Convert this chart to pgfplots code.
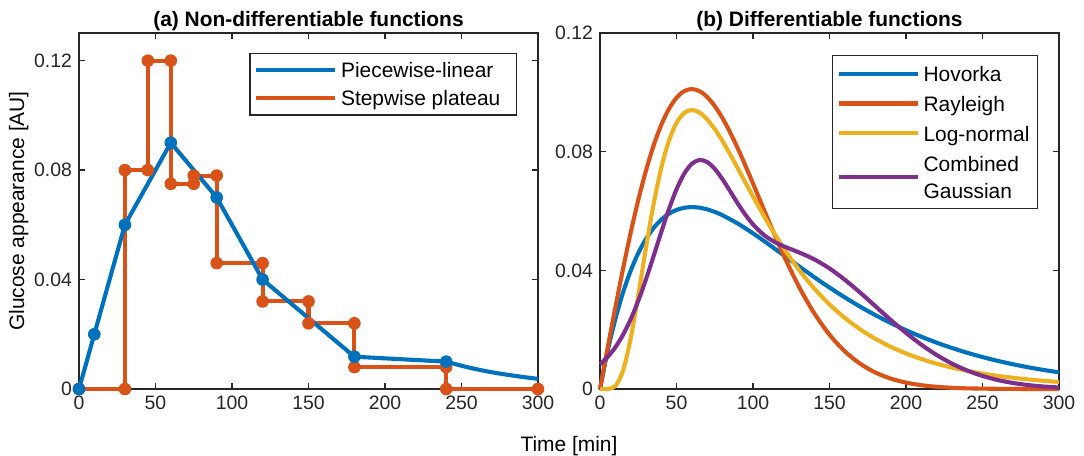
\documentclass[border=0pt]{standalone}
\usepackage{fontspec}
\setmainfont{Liberation Sans}
\usepackage{pgfplots}
\pgfplotsset{compat=1.18}
\definecolor{mblue}{rgb}{0,0.447,0.741}
\definecolor{morange}{rgb}{0.85,0.325,0.098}
\definecolor{myellow}{rgb}{0.929,0.694,0.125}
\definecolor{mpurple}{rgb}{0.494,0.184,0.556}
\definecolor{maxis}{rgb}{0.15,0.15,0.15}
\newcommand{\lfont}{\fontsize{10.5}{12}\selectfont}
\newcommand{\rfont}{\fontsize{10.5}{13.6}\selectfont}
\pgfplotsset{
 mystyle/.style={
  width=229.5bp, height=178bp, scale only axis,
  xmin=0, xmax=300, ymin=0,
  xtick={0,50,...,300},
  ytick={0,0.04,0.08,0.12},
  yticklabels={0,0.04,0.08,0.12},
  scaled y ticks=false,
  axis line style={maxis, line width=0.6bp},
  every tick/.style={maxis, line width=0.6bp},
  major tick length=3bp,
  tick align=inside,
  ticklabel style={font=\fontsize{9.75}{11}\selectfont, text=maxis},
  /pgf/number format/assume math mode=true,
  every axis title shift=0pt,
  title style={at={(0.5,1)}, anchor=base, yshift=3bp, inner sep=0pt, font=\bfseries\fontsize{10.5}{12}\selectfont},
  legend style={font=\lfont, draw=maxis, line width=0.6bp, anchor=north east, at={(1,1)}, xshift=-10.5bp, yshift=-10bp, cells={anchor=west, align=left}, inner xsep=2bp, inner ysep=1.5bp},
  legend image code/.code={\draw[#1] (0bp,0bp) -- (39.5bp,0bp);},
  clip=false,
  every axis plot/.append style={line width=2.05bp},
 }
}
\begin{document}
\begin{tikzpicture}
\useasboundingbox (-39.5bp,-33.5bp) rectangle (502.5bp,194.5bp);
\begin{axis}[mystyle, ymax=0.1301,
  title={(a) Non-differentiable functions},
  ylabel={Glucose appearance [AU]},
  ylabel style={at={(axis description cs:-0.1198,0.5)}, anchor=base, font=\lfont, inner sep=0pt},
  reverse legend]
\addplot[morange, mark=*, mark size=2.9bp, mark options={solid, fill=morange, draw=morange, line width=0.5bp}] coordinates {
(0,0) (30,0) (30,0.08) (45,0.08) (45,0.12) (60,0.12) (60,0.075) (75,0.075) (75,0.078) (90,0.078) (90,0.046) (120,0.046) (120,0.032) (150,0.032) (150,0.024) (180,0.024) (180,0.008) (240,0.008) (240,0) (300,0)};
\addlegendentry{Stepwise plateau\hspace*{4bp}\strut}
\addplot[mblue] coordinates {
(0,0) (10,0.02) (30,0.06) (60,0.09) (90,0.07) (120,0.04) (180,0.0118) (240,0.0100)};
\addlegendentry{Piecewise-linear\hspace*{4bp}\strut}
\addplot[mblue, smooth, forget plot] coordinates {
(240,0.0100) (250,0.0085) (260,0.0072) (270,0.0061) (280,0.0052) (290,0.0044) (300,0.0037)};
\addplot[mblue, only marks, mark=*, mark size=2.9bp, mark options={fill=mblue, draw=mblue, line width=0.5bp}, forget plot] coordinates {
(0,0) (10,0.02) (30,0.06) (60,0.09) (90,0.07) (120,0.04) (180,0.0118) (240,0.0100)};
\end{axis}
\begin{axis}[mystyle, at={(260.5bp,0)}, ymax=0.12,
  title={(b) Differentiable functions},
  legend style={font=\rfont, yshift=-1bp}]
\addplot[mblue, smooth] coordinates {
(0,0) (5,0.01278) (10,0.02351) (15,0.03245) (20,0.03981) (25,0.04578) (30,0.05054) (35,0.05425) (40,0.05704) (45,0.05905) (50,0.06036) (55,0.06108) (60,0.06131) (65,0.06113) (70,0.06055) (75,0.05969) (80,0.05858) (90,0.05578) (100,0.05247) (110,0.04886) (120,0.04511) (130,0.04138) (140,0.03771) (150,0.03420) (160,0.03088) (170,0.02777) (180,0.02489) (190,0.02224) (200,0.01982) (210,0.01762) (220,0.01562) (230,0.01383) (240,0.01221) (250,0.01077) (260,0.00948) (270,0.00833) (280,0.00731) (290,0.00641) (300,0.00561)};
\addlegendentry{Hovorka\strut}
\addplot[morange, smooth] coordinates {
(0,0) (5,0.01384) (10,0.02740) (15,0.04038) (20,0.05256) (25,0.06367) (30,0.07354) (35,0.08202) (40,0.08897) (45,0.09435) (50,0.09815) (55,0.10040) (60,0.10110) (65,0.10040) (70,0.09844) (75,0.09537) (80,0.09135) (85,0.08655) (90,0.08117) (95,0.07534) (100,0.06928) (110,0.05693) (120,0.04510) (130,0.03453) (140,0.02556) (150,0.01831) (160,0.01270) (170,0.00853) (180,0.00555) (190,0.00351) (200,0.00215) (210,0.00128) (220,0.00074) (230,0.00041) (240,0.00022) (260,0.00006) (280,0.00001) (300,0)};
\addlegendentry{Rayleigh\strut}
\addplot[myellow, smooth] coordinates {
(0,0) (5,0.00001) (10,0.00098) (15,0.00612) (20,0.01690) (25,0.03162) (30,0.04750) (35,0.06222) (40,0.07444) (45,0.08362) (50,0.08970) (55,0.09304) (60,0.09404) (65,0.09320) (70,0.09092) (75,0.08762) (80,0.08361) (85,0.07915) (90,0.07444) (95,0.06966) (100,0.06490) (110,0.05578) (120,0.04750) (130,0.04020) (140,0.03389) (150,0.02851) (160,0.02395) (170,0.02012) (180,0.01691) (190,0.01422) (200,0.01198) (210,0.01010) (220,0.00853) (230,0.00722) (240,0.00612) (250,0.00520) (260,0.00442) (270,0.00377) (280,0.00322) (290,0.00276) (300,0.00236)};
\addlegendentry{Log-normal\strut}
\addplot[mpurple, smooth] coordinates {
(0,0.00833) (5,0.01081) (10,0.01405) (15,0.01823) (20,0.02344) (25,0.02970) (30,0.03691) (35,0.04476) (40,0.05283) (45,0.06054) (50,0.06730) (55,0.07255) (60,0.07590) (65,0.07719) (70,0.07652) (75,0.07420) (80,0.07075) (85,0.06671) (90,0.06257) (95,0.05875) (100,0.05549) (105,0.05286) (110,0.05085) (115,0.04932) (120,0.04811) (130,0.04605) (140,0.04371) (150,0.04064) (160,0.03683) (170,0.03251) (180,0.02790) (190,0.02329) (200,0.01891) (210,0.01494) (220,0.01147) (230,0.00857) (240,0.00622) (250,0.00440) (260,0.00302) (270,0.00202) (280,0.00132) (290,0.00083) (300,0.00051)};
\addlegendentry{Combined\strut\\Gaussian\strut}
\end{axis}
\node[anchor=base, font=\lfont, inner sep=0pt] at (245bp,-31bp) {Time [min]};
\end{tikzpicture}
\end{document}
